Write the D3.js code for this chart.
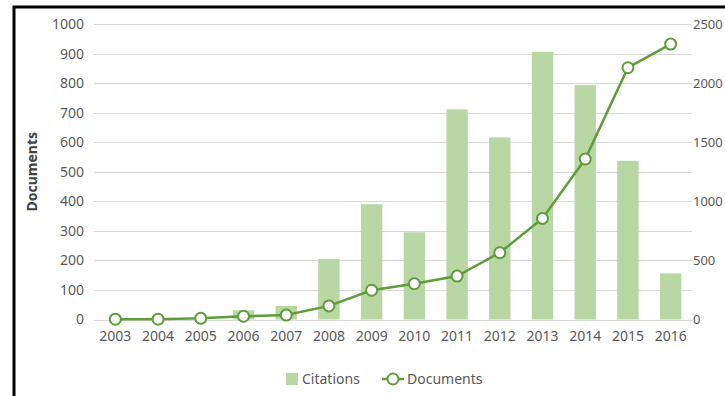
<!DOCTYPE html>
<html>
<head>
<meta charset="utf-8">
<script src="https://cdn.jsdelivr.net/npm/d3@7"></script>
<style>
  body { margin: 0; background: #fff; }
  svg { display: block; font-family: "Noto Sans", sans-serif; }
</style>
</head>
<body>
<svg></svg>
<script>
const w = 725;
const h = 396;

// chart data
const years = ['2003', '2004', '2005', '2006', '2007', '2008', '2009', '2010', '2011', '2012', '2013', '2014', '2015', '2016'];
const citations = [0, 0, 0, 78, 115, 513, 975, 738, 1778, 1540, 2265, 1983, 1343, 390];
const documents = [1, 1, 4, 11, 15, 46, 99, 121, 147, 226, 342, 543, 852, 932];
const leftTicks = [0, 100, 200, 300, 400, 500, 600, 700, 800, 900, 1000];
const rightTicks = [0, 500, 1000, 1500, 2000, 2500];

const svg = d3.select('svg').attr('width', w).attr('height', h);

const plotLeft = 94, plotRight = 692, plotTop = 24, plotBottom = 319.5;

const xScale = d3.scaleBand().domain(years).range([plotLeft, plotRight]).paddingInner(0.5).paddingOuter(0.25);
const yLeft = d3.scaleLinear().domain([0, 1000]).range([plotBottom, plotTop]);
const yRight = d3.scaleLinear().domain([0, 2500]).range([plotBottom, plotTop]);

// frame
svg.append('path')
    .attr('d', `M14,${h + 5}V7H${w + 5}`)
    .attr('fill', 'none')
    .attr('stroke', '#000')
    .attr('stroke-width', 3);

// gridlines
svg.append('g')
    .selectAll('line')
    .data(leftTicks)
    .enter()
    .append('line')
    .attr('x1', plotLeft)
    .attr('x2', plotRight)
    .attr('y1', (d) => Math.round(yLeft(d)) + 0.5)
    .attr('y2', (d) => Math.round(yLeft(d)) + 0.5)
    .attr('stroke', '#d9d9d9')
    .attr('stroke-width', 1);

// axes
const yAxisL = d3.axisLeft(yLeft).tickValues(leftTicks).tickFormat(d3.format('d')).tickSize(0).tickPadding(10);
const yAxisR = d3.axisRight(yRight).tickValues(rightTicks).tickFormat(d3.format('d')).tickSize(0).tickPadding(1);
const xAxis = d3.axisBottom(xScale).tickSize(0).tickPadding(12);

function styleAxis(g, size) {
    g.select('.domain').remove();
    g.selectAll('text').attr('fill', '#595959').style('font-size', size || '14px').style('font-family', '"Noto Sans", sans-serif');
}

svg.append('g').attr('transform', 'translate(' + plotLeft + ',0)').call(yAxisL).call(styleAxis);
svg.append('g').attr('transform', 'translate(' + plotRight + ',0)').call(yAxisR).call(styleAxis, '13px');
svg.append('g').attr('transform', 'translate(0,' + plotBottom + ')').call(xAxis).call(styleAxis);

// axis title
svg.append('text')
    .attr('transform', 'translate(37,' + (plotTop + plotBottom) / 2 + ') rotate(-90)')
    .attr('text-anchor', 'middle')
    .attr('fill', '#404040')
    .style('font-size', '14px')
    .style('font-weight', 'bold')
    .text('Documents');

// bars (citations, right axis)
svg.append('g')
    .selectAll('rect')
    .data(citations)
    .enter()
    .append('rect')
    .attr('x', (d, i) => xScale(years[i]))
    .attr('y', (d) => yRight(d))
    .attr('width', xScale.bandwidth())
    .attr('height', (d) => plotBottom - yRight(d))
    .attr('fill', '#b8d7a3');

// line (documents, left axis)
const cx = (i) => xScale(years[i]) + xScale.bandwidth() / 2;
const line = d3.line().x((d, i) => cx(i)).y((d) => yLeft(d));
svg.append('path')
    .datum(documents)
    .attr('d', line)
    .attr('fill', 'none')
    .attr('stroke', '#5e9d3a')
    .attr('stroke-width', 2.5);

svg.append('g')
    .selectAll('circle')
    .data(documents)
    .enter()
    .append('circle')
    .attr('cx', (d, i) => cx(i))
    .attr('cy', (d) => yLeft(d))
    .attr('r', 5.5)
    .attr('fill', '#fff')
    .attr('stroke', '#5e9d3a')
    .attr('stroke-width', 2);

// legend
const lg = svg.append('g').attr('transform', 'translate(0,379)');
lg.append('rect').attr('x', 286).attr('y', -6).attr('width', 12).attr('height', 12).attr('fill', '#b8d7a3');
lg.append('text').attr('x', 302).attr('y', 5).attr('fill', '#595959').style('font-size', '14px').text('Citations');
lg.append('line').attr('x1', 382).attr('x2', 404).attr('y1', 0).attr('y2', 0).attr('stroke', '#5e9d3a').attr('stroke-width', 2.5);
lg.append('circle').attr('cx', 393).attr('cy', 0).attr('r', 5.5).attr('fill', '#fff').attr('stroke', '#5e9d3a').attr('stroke-width', 2);
lg.append('text').attr('x', 407).attr('y', 5).attr('fill', '#595959').style('font-size', '14px').text('Documents');
</script>
</body>
</html>
